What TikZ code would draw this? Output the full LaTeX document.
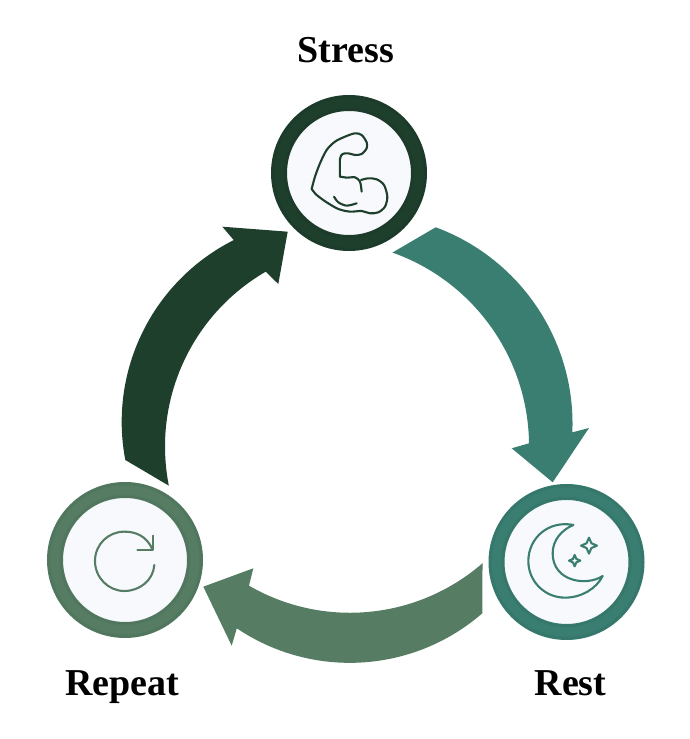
\documentclass[tikz,border=0pt]{standalone}
\usepackage{fontspec}
\setmainfont{Liberation Serif}
\usetikzlibrary{positioning}
\definecolor{stressgreen}{HTML}{1F3F2D}
\definecolor{restteal}{HTML}{3A7E72}
\definecolor{repeatgreen}{HTML}{567D64}
\definecolor{iconpaper}{HTML}{F8F9FD}
\begin{document}
\begin{tikzpicture}[
        x=1pt, y=1pt,
        phase/.style={circle, draw, fill=iconpaper, line width=16pt, minimum size=140pt, inner sep=0pt},
        ringshade/.style={black, opacity=0.04, line width=2pt},
        title/.style={font=\fontsize{38}{44}\selectfont\bfseries, text=black, inner sep=0pt, anchor=base},
        icon/.style={line width=2.1pt, line join=round, line cap=round},
        zoomed/.style={x=0.3333pt, y=-0.3333pt}
        ]
      \useasboundingbox (0,0) rectangle (689,739);
      \node[phase, draw=stressgreen] (stress) at (349,566) {};
      \node[phase, draw=restteal] (rest) at (566.5,177) {};
      \node[phase, draw=repeatgreen] (repeat) at (125,179) {};
      \foreach \phasename in {stress,rest,repeat} {
        \draw[ringshade] (\phasename) circle[radius=63pt];
        \draw[ringshade] (\phasename) circle[radius=64.5pt];
        \draw[ringshade] (\phasename) circle[radius=77pt];
        \draw[ringshade] (\phasename) circle[radius=75.5pt];
      }
      \node[title] (stresslabel) at (346,676.7) {Stress};
      \node[title] (restlabel) at (570.5,43.5) {Rest};
      \node[title] (repeatlabel) at (122.5,43.5) {Repeat};

      % block arrows
      \fill[restteal] (435.7,511.7) arc[start angle=69.7, end angle=-2.35, radius=209.5]
        -- (589,311) -- (552.7,256.7) -- (511.7,290.7)
        -- (529,295.7) arc[start angle=0.7, end angle=70.5, radius=205] -- cycle;
      \fill[repeatgreen] (482.3,125.7) arc[start angle=-49, end angle=-124, radius=202]
        -- (231.7,93.3) -- (203.3,152.3) -- (253.3,170.7)
        -- (249,153.3) arc[start angle=-120, end angle=-49, radius=202] -- cycle;
      \fill[stressgreen] (125.3,279) arc[start angle=190.8, end angle=116.7, radius=203.5]
        -- (222.3,512.3) -- (287.7,507.3) -- (278.3,455)
        -- (265.7,467.3) arc[start angle=120.1, end angle=191.2, radius=202] -- cycle;

      % muscle
      \begin{scope}[shift={(260,654)}, zoomed]
        \draw[icon, stressgreen] plot[smooth] coordinates {(155,312) (165,275) (180,235) (200,195) (225,170) (255,155) (285,145) (305,150) (320,172) (320,190) (305,207) (285,210) (265,205) (248,207) (240,222) (240,275)};
        \draw[icon, stressgreen] plot[smooth] coordinates {(240,275) (262,278) (285,277) (300,290) (305,320)};
        \draw[icon, stressgreen] plot[smooth] coordinates {(303,285) (325,280) (350,283) (372,300) (382,335) (375,365) (355,382) (330,385) (305,378) (270,380) (235,372) (200,352) (170,330) (155,312)};
        \draw[icon, stressgreen] plot[smooth] coordinates {(222,335) (235,352) (260,362) (290,355)};
      \end{scope}
      % moon
      \begin{scope}[shift={(480,264)}, zoomed]
        \draw[icon, restteal] (280,150) .. controls (205,135) and (145,190) .. (145,258)
          .. controls (145,320) and (195,368) .. (255,368)
          .. controls (305,368) and (350,340) .. (368,303)
          .. controls (320,335) and (218,320) .. (218,235)
          .. controls (218,195) and (245,165) .. (280,150) -- cycle;
        \foreach \cx/\cy/\cr in {327/212/24, 284/257/17}
          \draw[icon, restteal] (\cx,\cy-\cr) -- (\cx+0.3*\cr,\cy-0.3*\cr) -- (\cx+\cr,\cy) -- (\cx+0.3*\cr,\cy+0.3*\cr)
            -- (\cx,\cy+\cr) -- (\cx-0.3*\cr,\cy+0.3*\cr) -- (\cx-\cr,\cy) -- (\cx-0.3*\cr,\cy-0.3*\cr) -- cycle;
      \end{scope}
      % refresh
      \begin{scope}[shift={(40,264)}, zoomed]
        \draw[icon, repeatgreen] (343,270) .. controls (340,315) and (300,348) .. (253,348)
          .. controls (205,348) and (165,308) .. (165,258)
          .. controls (165,208) and (205,170) .. (253,170)
          .. controls (290,170) and (320,185) .. (337,222);
        \draw[icon, repeatgreen] (338,182) -- (338,224) -- (292,224);
      \end{scope}
    \end{tikzpicture}
\end{document}
